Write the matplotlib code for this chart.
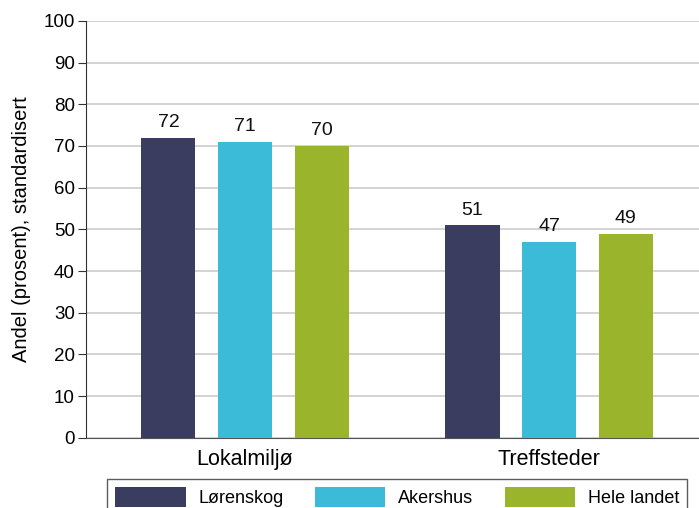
import numpy as np
import matplotlib.pyplot as plt

plt.rcParams['font.family'] = ['Liberation Sans', 'DejaVu Sans']

# Data
kategorier = ['Lokalmiljø', 'Treffsteder']
lorenskog = [72, 51]
akershus = [71, 47]
hele_landet = [70, 49]
serier = ['Lørenskog', 'Akershus', 'Hele landet']
farger = ['#3A3C60', '#3BBBD8', '#9AB42B']

fig = plt.figure(figsize=(6.99, 5.08), dpi=100)
ax = fig.add_axes([0.123, 0.138, 0.877, 0.821])

x = np.arange(len(kategorier))
bredde = 0.178
avstand = 0.252
for i, (navn, verdier) in enumerate(zip(serier, [lorenskog, akershus, hele_landet])):
    pos = x + (i - 1) * avstand
    bars = ax.bar(pos, verdier, bredde, color=farger[i], label=navn, zorder=3)
    for b, v in zip(bars, verdier):
        ax.text(b.get_x() + b.get_width() / 2, v + 1.6, str(v),
                ha='center', va='bottom', fontsize=14, color='#111111')

ax.set_ylim(0, 100)
ax.set_yticks(range(0, 101, 10))
ax.set_xlim(-0.523, 1.493)
ax.set_xticks(x)
ax.set_xticklabels(kategorier, fontsize=15.5)
ax.tick_params(axis='x', length=0, pad=8)
ax.tick_params(axis='y', labelsize=13.5, length=6, color='#333333', pad=2)
ax.grid(axis='y', color='#CCCCCC', linewidth=1.2, zorder=0)
ax.spines['top'].set_visible(False)
ax.spines['right'].set_visible(False)
ax.spines['left'].set_color('#333333')
ax.spines['bottom'].set_color('#555555')
ax.set_ylabel('Andel (prosent), standardisert', fontsize=14.5)
ax.yaxis.set_label_coords(-0.090, 0.5)

fig.legend(loc='upper left', bbox_to_anchor=(107 / 699, 1 - 479 / 508),
           ncol=3, fontsize=13, frameon=True, fancybox=False,
           edgecolor='#333333', handlelength=3.9, handleheight=1.3,
           handletextpad=0.7, columnspacing=1.75, borderpad=0.45,
           borderaxespad=0)

fig.savefig('out.png', dpi=100)
